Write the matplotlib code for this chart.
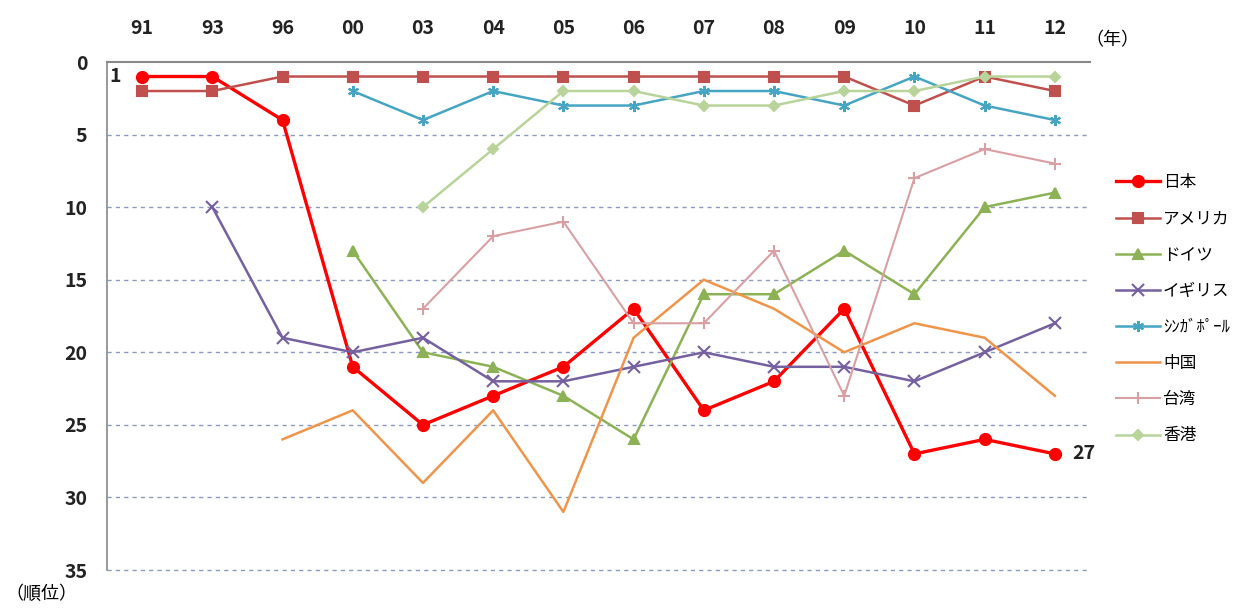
import numpy as np
import matplotlib
matplotlib.use("Agg")
import matplotlib.pyplot as plt

plt.rcParams['font.family'] = ['Noto Sans CJK JP', 'DejaVu Sans']

# ranking data (None = not ranked)
years = ['91', '93', '96', '00', '03', '04', '05', '06', '07', '08', '09', '10', '11', '12']
japan = [1, 1, 4, 21, 25, 23, 21, 17, 24, 22, 17, 27, 26, 27]
usa = [2, 2, 1, 1, 1, 1, 1, 1, 1, 1, 1, 3, 1, 2]
germany = [None, None, None, 13, 20, 21, 23, 26, 16, 16, 13, 16, 10, 9]
uk = [None, 10, 19, 20, 19, 22, 22, 21, 20, 21, 21, 22, 20, 18]
singapore = [None, None, None, 2, 4, 2, 3, 3, 2, 2, 3, 1, 3, 4]
china = [None, None, 26, 24, 29, 24, 31, 19, 15, 17, 20, 18, 19, 23]
taiwan = [None, None, None, None, 17, 12, 11, 18, 18, 13, 23, 8, 6, 7]
hongkong = [None, None, None, None, 10, 6, 2, 2, 3, 3, 2, 2, 1, 1]

names = ['日本', 'アメリカ', 'ドイツ', 'イギリス', 'ｼﾝｶﾞﾎﾟｰﾙ', '中国', '台湾', '香港']
series = [japan, usa, germany, uk, singapore, china, taiwan, hongkong]
colors = ['#FF0000', '#C0504D', '#8DB255', '#7560A0', '#45A5C2', '#F0944A', '#D9A0A4', '#B8D49A']
markers = ['o', 's', '^', 'x', (6, 2, 0), None, '+', 'D']
msizes = [8, 7, 7, 8, 8, 0, 9, 5]
lwidths = [2.4, 1.8, 1.8, 1.8, 1.8, 1.8, 1.5, 1.8]

fig = plt.figure(figsize=(12.49, 6.08), dpi=100)
ax = fig.add_axes([107 / 1249, 1 - 570 / 608, (1090 - 107) / 1249, (570 - 62) / 608])

x = np.arange(len(years))
for vals, name, c, m, ms, lw in zip(series, names, colors, markers, msizes, lwidths):
    y = np.array([np.nan if v is None else v for v in vals], dtype=float)
    ax.plot(x, y, color=c, marker=m, markersize=ms, linewidth=lw,
            markeredgecolor=c, markeredgewidth=1.5, label=name)

ax.set_xlim(-0.5, 13.5)
ax.set_ylim(35, 0)
ax.set_yticks(range(0, 36, 5))
ax.set_xticks(x)
ax.set_xticklabels(years)
ax.xaxis.tick_top()
ax.tick_params(axis='both', length=0, labelsize=14)
ax.tick_params(axis='x', pad=17)
ax.tick_params(axis='y', pad=14)
for lab in ax.get_xticklabels() + ax.get_yticklabels():
    lab.set_fontweight('bold')
    lab.set_color('#222222')

for s in ['right', 'bottom']:
    ax.spines[s].set_visible(False)
ax.spines['top'].set_color('#888888')
ax.spines['left'].set_color('#888888')
ax.spines['top'].set_linewidth(1.5)
ax.spines['left'].set_linewidth(1.2)

for yv in range(5, 36, 5):
    ax.axhline(yv, color='#8A9BC0', linestyle=(0, (3, 3)), linewidth=1, zorder=0, clip_on=False)

ax.text(-0.3, 1, '1', ha='right', va='center', fontsize=14, fontweight='bold', color='#222222')
ax.text(13.25, 27, '27', ha='left', va='center', fontsize=14, fontweight='bold', color='#222222')

fig.text(1085 / 1249, 1 - 40 / 608, '（年）', ha='left', va='center', fontsize=13)
fig.text(5 / 1249, 1 - 594 / 608, '（順位）', ha='left', va='center', fontsize=13)

ax.legend(loc='upper left', bbox_to_anchor=(1108 / 1249, 1 - 166 / 608),
          bbox_transform=fig.transFigure, frameon=False, fontsize=12,
          handlelength=2.6, handletextpad=0.2, labelspacing=1.15, borderpad=0)

fig.savefig('out.png', dpi=100, facecolor='white')
